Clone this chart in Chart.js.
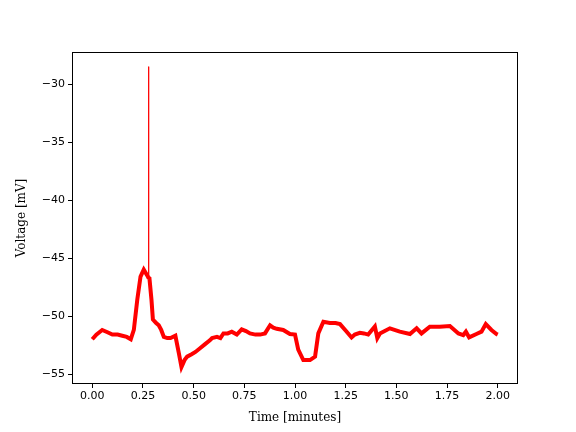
<!DOCTYPE html>
<html>
<head>
<meta charset="utf-8">
<script src="https://cdn.jsdelivr.net/npm/chart.js@4/dist/chart.umd.min.js"></script>
<style>
html,body{margin:0;padding:0;background:#fff;}
#wrap{width:576px;height:432px;}
</style>
</head>
<body>
<div id="wrap"><canvas id="c" width="576" height="432"></canvas></div>
<script>
// Time (minutes) and voltage (mV)
const timeMin = [0.0,0.02,0.049,0.075,0.099,0.125,0.148,0.17,0.19,0.205,0.222,0.238,0.254,0.271,0.277,
  0.282,0.292,0.299,0.315,0.328,0.34,0.353,0.37,0.386,0.41,0.427,0.44,0.455,0.468,0.49,0.509,0.53,0.558,0.58,0.591,0.615,0.632,
  0.647,0.668,0.688,0.713,0.737,0.758,0.778,0.805,0.828,0.852,0.877,0.893,0.91,0.942,0.975,1.0,1.016,1.041,1.074,1.099,1.115,
  1.14,1.172,1.2,1.222,1.255,1.279,1.295,1.32,1.34,1.361,1.394,1.406,1.419,1.468,1.517,1.567,1.6,1.624,1.665,1.714,
  1.764,1.806,1.83,1.843,1.859,1.895,1.92,1.941,1.969,1.994,2.0];
const voltage = [-52.0,-51.6,-51.2,-51.4,-51.6,-51.6,-51.7,-51.8,-52.0,-51.2,-48.6,-46.6,-46.0,-46.5,-46.7,
  -46.75,-48.6,-50.3,-50.6,-50.8,-51.2,-51.8,-51.9,-51.9,-51.7,-53.2,-54.4,-53.8,-53.5,-53.3,-53.1,-52.8,-52.4,-52.1,-51.9,-51.8,-51.9,
  -51.5,-51.5,-51.35,-51.6,-51.15,-51.3,-51.5,-51.6,-51.6,-51.5,-50.8,-51.0,-51.1,-51.2,-51.55,-51.6,-52.9,-53.8,-53.8,-53.5,-51.5,
  -50.5,-50.6,-50.6,-50.7,-51.35,-51.85,-51.6,-51.45,-51.5,-51.6,-50.9,-51.9,-51.5,-51.06,-51.35,-51.55,-51.06,-51.5,-50.92,-50.92,
  -50.86,-51.5,-51.64,-51.35,-51.84,-51.55,-51.35,-50.69,-51.2,-51.55,-51.6];
// The action-potential spike
const spikeTime = [0.2775,0.278,0.2785];
const spikeVoltage = [-46.4,-28.5,-46.6];

const xTicks = [0,0.25,0.5,0.75,1.0,1.25,1.5,1.75,2.0];
const yTicks = [-55,-50,-45,-40,-35,-30];
const xLabel = 'Time [minutes]';
const yLabel = 'Voltage [mV]';

const mainPts = timeMin.map((t,i)=>({x:t,y:voltage[i]}));
const spikePts = spikeTime.map((t,i)=>({x:t,y:spikeVoltage[i]}));

const frame = {
  id:'frame',
  afterDraw(chart){
    const a = chart.chartArea, ctx = chart.ctx;
    ctx.save();
    ctx.strokeStyle = '#000';
    ctx.lineWidth = 1;
    ctx.strokeRect(Math.round(a.left)+0.5, Math.round(a.top)+0.5, Math.round(a.right-a.left)-1, Math.round(a.bottom-a.top)-1);
    ctx.restore();
  }
};

const tickFont = {family:'DejaVu Sans', size:11};
const titleFont = {family:'DejaVu Serif', size:12};

new Chart(document.getElementById('c'), {
  type:'line',
  data:{datasets:[
    {data:mainPts, borderColor:'#ff0000', borderWidth:4, pointRadius:0, tension:0, fill:false},
    {data:spikePts, borderColor:'#ff0000', borderWidth:1, pointRadius:0, tension:0, fill:false}
  ]},
  options:{
    responsive:false, animation:false, devicePixelRatio:1,
    layout:{padding:{left:0, top:52, right:58, bottom:0}},
    plugins:{legend:{display:false}, tooltip:{enabled:false}},
    scales:{
      x:{type:'linear', min:-0.1, max:2.1,
        afterBuildTicks(s){ s.ticks = xTicks.map(v=>({value:v})); },
        afterFit(s){ s.height = 48; },
        grid:{drawOnChartArea:false, drawTicks:true, tickLength:4, color:'#000'},
        border:{display:false},
        ticks:{font:tickFont, color:'#000', padding:2, maxRotation:0, autoSkip:false,
          callback:(v)=>Number(v).toFixed(2)},
        title:{display:true, text:xLabel, font:titleFont, color:'#000', padding:{top:0,bottom:7}}
      },
      y:{type:'linear', min:-55.86, max:-27.24,
        afterBuildTicks(s){ s.ticks = yTicks.map(v=>({value:v})); },
        afterFit(s){ s.width = 72; },
        grid:{drawOnChartArea:false, drawTicks:true, tickLength:4, color:'#000'},
        border:{display:false},
        ticks:{font:tickFont, color:'#000', padding:3, autoSkip:false,
          callback:(v)=>String(v).replace('-','\u2212')},
        title:{display:true, text:yLabel, font:titleFont, color:'#000', padding:{top:15,bottom:0}}
      }
    }
  },
  plugins:[frame]
});
</script>
</body>
</html>
